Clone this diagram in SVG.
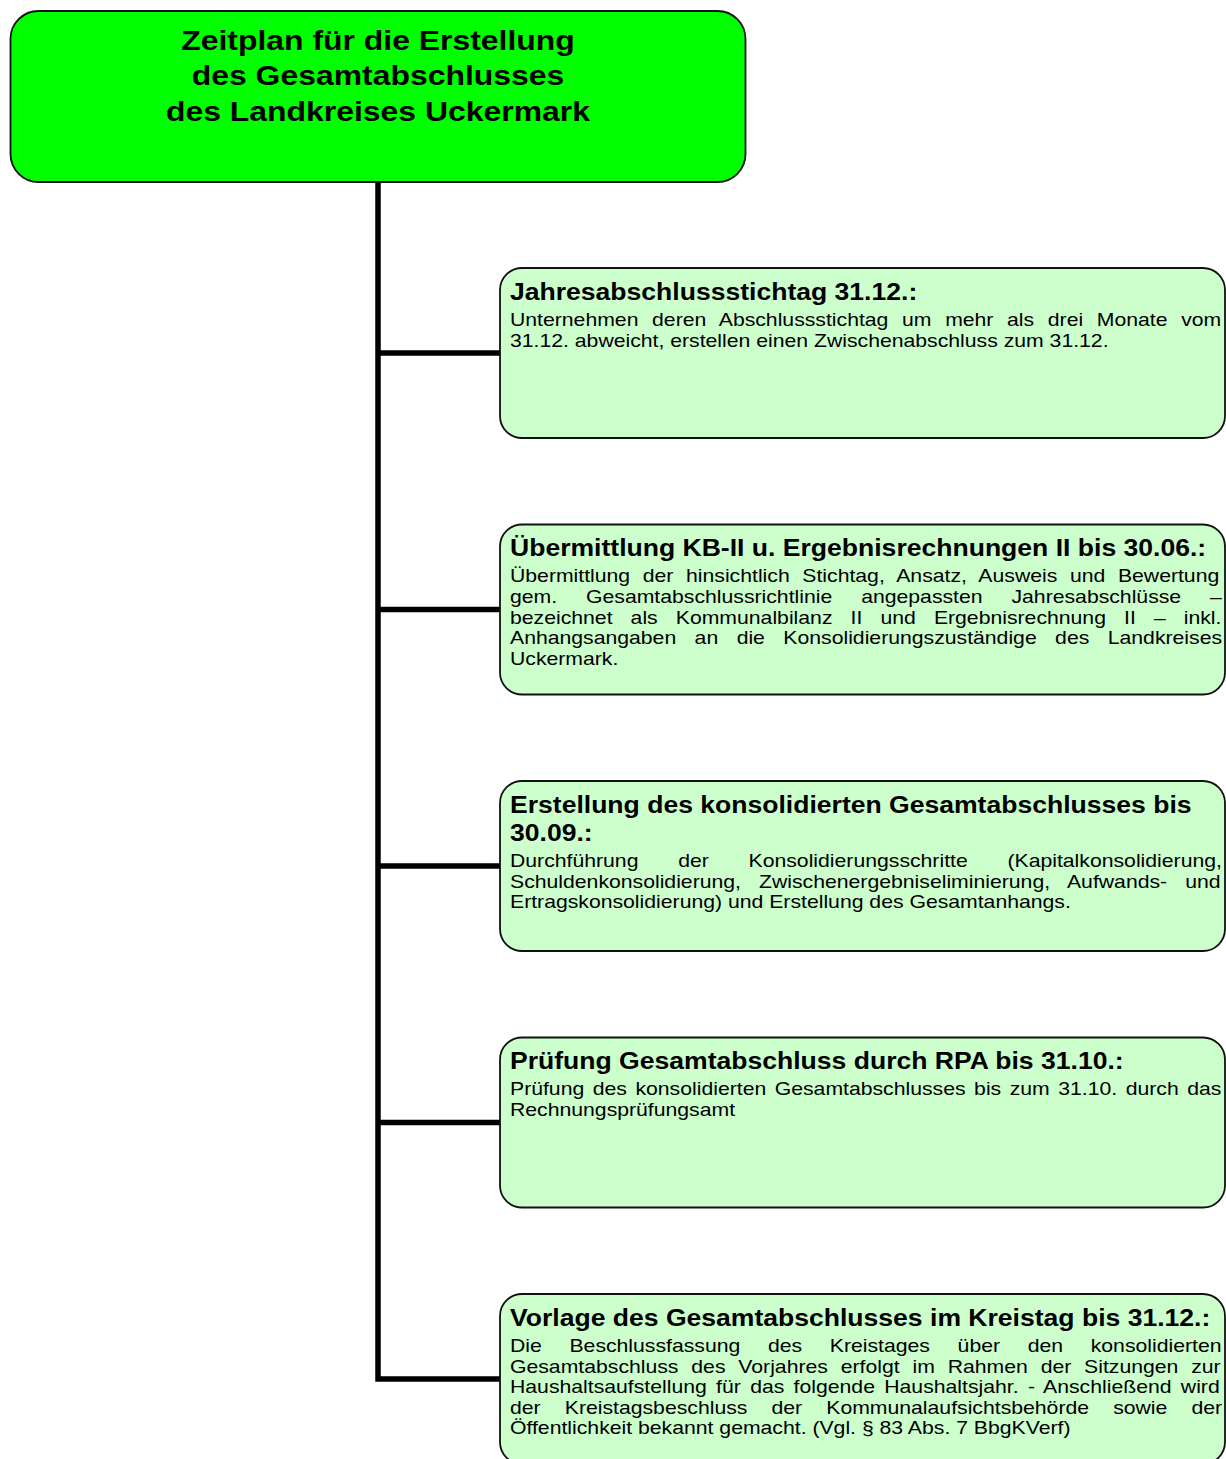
<svg xmlns="http://www.w3.org/2000/svg" width="1226" height="1459" viewBox="0 0 1226 1459">
<style>
text { font-family: "Liberation Sans", Arial, sans-serif; fill: #000; }
.tt { font-weight: bold; font-size: 28px; text-anchor: middle; }
.hd { font-weight: bold; font-size: 23.3px; }
.tb { font-size: 18.6px; }
.title-box { fill: #00ff00; stroke: #111; stroke-width: 1.8; }
.node-box { fill: #ccffcc; stroke: #111; stroke-width: 1.8; }
.conn { fill: none; stroke: #000; stroke-width: 5.5; stroke-linejoin: miter; stroke-linecap: butt; }
</style>
<g id="connectors">
  <path class="conn" d="M378,182 V1379 H500"/>
  <path class="conn" d="M378,353 H500"/>
  <path class="conn" d="M378,609.5 H500"/>
  <path class="conn" d="M378,866 H500"/>
  <path class="conn" d="M378,1122.5 H500"/>
</g>
<g id="title">
  <rect class="title-box" x="10.5" y="11" width="735" height="171" rx="28" ry="28"/>
  <g transform="matrix(1.14 0 0 1 -52.92 0)">
    <text class="tt" x="378" y="50">Zeitplan für die Erstellung</text>
    <text class="tt" x="378" y="85.5">des Gesamtabschlusses</text>
    <text class="tt" x="378" y="121">des Landkreises Uckermark</text>
  </g>
</g>
<g id="node1">
  <rect class="node-box" x="500" y="268" width="725" height="170" rx="22" ry="22"/>
  <g transform="matrix(1.14 0 0 1 -71.4 0)">
    <text class="hd" x="510" y="300">Jahresabschlussstichtag 31.12.:</text>
    <text class="tb" x="510" y="326" word-spacing="6.8">Unternehmen deren Abschlussstichtag um mehr als drei Monate vom</text>
    <text class="tb" x="510" y="346.6">31.12. abweicht, erstellen einen Zwischenabschluss zum 31.12.</text>
  </g>
</g>
<g id="node2">
  <rect class="node-box" x="500" y="524.5" width="725" height="170" rx="22" ry="22"/>
  <g transform="matrix(1.14 0 0 1 -71.4 0)">
    <text class="hd" x="510" y="556.5">Übermittlung KB-II u. Ergebnisrechnungen II bis 30.06.:</text>
    <text class="tb" x="510" y="582.5" word-spacing="5.9">Übermittlung der hinsichtlich Stichtag, Ansatz, Ausweis und Bewertung</text>
    <text class="tb" x="510" y="603.1" word-spacing="20.2">gem. Gesamtabschlussrichtlinie angepassten Jahresabschlüsse –</text>
    <text class="tb" x="510" y="623.7" word-spacing="10.7">bezeichnet als Kommunalbilanz II und Ergebnisrechnung II – inkl.</text>
    <text class="tb" x="510" y="644.3" word-spacing="11">Anhangsangaben an die Konsolidierungszuständige des Landkreises</text>
    <text class="tb" x="510" y="664.9">Uckermark.</text>
  </g>
</g>
<g id="node3">
  <rect class="node-box" x="500" y="781" width="725" height="170" rx="22" ry="22"/>
  <g transform="matrix(1.14 0 0 1 -71.4 0)">
    <text class="hd" x="510" y="813">Erstellung des konsolidierten Gesamtabschlusses bis</text>
    <text class="hd" x="510" y="841">30.09.:</text>
    <text class="tb" x="510" y="867" word-spacing="29.7">Durchführung der Konsolidierungsschritte (Kapitalkonsolidierung,</text>
    <text class="tb" x="510" y="887.6" word-spacing="10.7">Schuldenkonsolidierung, Zwischenergebniseliminierung, Aufwands- und</text>
    <text class="tb" x="510" y="908.2">Ertragskonsolidierung) und Erstellung des Gesamtanhangs.</text>
  </g>
</g>
<g id="node4">
  <rect class="node-box" x="500" y="1037.5" width="725" height="170" rx="22" ry="22"/>
  <g transform="matrix(1.14 0 0 1 -71.4 0)">
    <text class="hd" x="510" y="1069.5">Prüfung Gesamtabschluss durch RPA bis 31.10.:</text>
    <text class="tb" x="510" y="1095.5" word-spacing="2.3">Prüfung des konsolidierten Gesamtabschlusses bis zum 31.10. durch das</text>
    <text class="tb" x="510" y="1116.1">Rechnungsprüfungsamt</text>
  </g>
</g>
<g id="node5">
  <rect class="node-box" x="500" y="1294" width="725" height="170" rx="22" ry="22"/>
  <g transform="matrix(1.14 0 0 1 -71.4 0)">
    <text class="hd" x="510" y="1326">Vorlage des Gesamtabschlusses im Kreistag bis 31.12.:</text>
    <text class="tb" x="510" y="1352" word-spacing="19.1">Die Beschlussfassung des Kreistages über den konsolidierten</text>
    <text class="tb" x="510" y="1372.6" word-spacing="6.1">Gesamtabschluss des Vorjahres erfolgt im Rahmen der Sitzungen zur</text>
    <text class="tb" x="510" y="1393.2" word-spacing="3">Haushaltsaufstellung für das folgende Haushaltsjahr. - Anschließend wird</text>
    <text class="tb" x="510" y="1413.8" word-spacing="16">der Kreistagsbeschluss der Kommunalaufsichtsbehörde sowie der</text>
    <text class="tb" x="510" y="1434.4">Öffentlichkeit bekannt gemacht. (Vgl. § 83 Abs. 7 BbgKVerf)</text>
  </g>
</g>
</svg>
